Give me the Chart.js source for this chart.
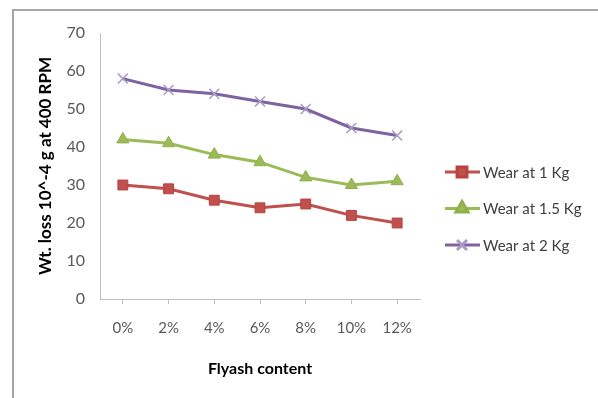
<!DOCTYPE html>
<html>
<head>
<meta charset="utf-8">
<script src="https://cdn.jsdelivr.net/npm/chart.js@4.4.1/dist/chart.umd.min.js"></script>
<style>
  html, body { margin: 0; padding: 0; background: #fff; }
  #wrap { position: relative; width: 598px; height: 398px; }
</style>
</head>
<body>
<div id="wrap"><canvas id="chart"></canvas></div>
<script>
const flyash = ['0%', '2%', '4%', '6%', '8%', '10%', '12%']
const wear1 = [30, 29, 26, 24, 25, 22, 20]
const wear15 = [42, 41, 38, 36, 32, 30, 31]
const wear2 = [58, 55, 54, 52, 50, 45, 43]
const seriesNames = ['Wear at 1 Kg', 'Wear at 1.5 Kg', 'Wear at 2 Kg']

const font = 'Lato'

// frame around the whole picture + legend drawn on the right (line with marker in the middle)
const decorations = {
    id: 'decorations',
    beforeDraw(chart) {
        const ctx = chart.ctx
        ctx.save()
        ctx.strokeStyle = '#a6a6a6'
        ctx.lineWidth = 2
        ctx.strokeRect(13, 10, 700, 500)
        ctx.restore()
    },
    afterDraw(chart) {
        const ctx = chart.ctx
        ctx.save()
        chart.data.datasets.forEach((ds, i) => {
            const y = 172 + i * 36.5
            ctx.strokeStyle = ds.borderColor
            ctx.lineWidth = 3
            ctx.beginPath()
            ctx.moveTo(445, y)
            ctx.lineTo(480, y)
            ctx.stroke()
            ctx.fillStyle = ds.pointBackgroundColor
            ctx.strokeStyle = ds.pointBorderColor
            Chart.helpers.drawPoint(ctx, {
                pointStyle: ds.pointStyle,
                radius: ds.pointRadius,
                rotation: 0,
                borderWidth: ds.pointBorderWidth
            }, 462, y)
            ctx.fillStyle = '#404040'
            ctx.font = '15px ' + font
            ctx.textBaseline = 'middle'
            ctx.textAlign = 'left'
            ctx.fillText(ds.label, 483, y + 1)
        })
        ctx.restore()
    }
}

new Chart(document.getElementById('chart'), {
    type: 'line',
    data: {
        labels: flyash,
        datasets: [
            {
                label: seriesNames[0],
                data: wear1,
                borderColor: '#c0504d',
                borderWidth: 3,
                pointStyle: 'rect',
                pointRadius: 7,
                pointBorderWidth: 1,
                pointBackgroundColor: '#c0504d',
                pointBorderColor: '#b8433f',
                tension: 0
            },
            {
                label: seriesNames[1],
                data: wear15,
                borderColor: '#9bbb59',
                borderWidth: 3,
                pointStyle: 'triangle',
                pointRadius: 7,
                pointBorderWidth: 1,
                pointBackgroundColor: '#9bbb59',
                pointBorderColor: '#8fb04a',
                tension: 0
            },
            {
                label: seriesNames[2],
                data: wear2,
                borderColor: '#7e62a1',
                borderWidth: 3,
                pointStyle: 'crossRot',
                pointRadius: 7,
                pointBorderWidth: 1.5,
                pointBackgroundColor: '#a99bc4',
                pointBorderColor: '#a99bc4',
                tension: 0
            }
        ]
    },
    options: {
        responsive: true,
        maintainAspectRatio: false,
        animation: false,
        layout: { padding: { top: 33, right: 178, left: 0, bottom: 0 } },
        plugins: {
            legend: { display: false },
            tooltip: { enabled: false }
        },
        scales: {
            x: {
                offset: true,
                grid: { drawOnChartArea: false, offset: false, tickLength: 5, color: '#bfbfbf' },
                border: { color: '#bfbfbf', width: 1 },
                ticks: { color: '#595959', font: { family: font, size: 15 }, padding: 15, maxRotation: 0 },
                title: {
                    display: true,
                    text: 'Flyash content',
                    color: '#000',
                    font: { family: font, size: 16, weight: 'bold' },
                    padding: { top: 0, bottom: 20 }
                },
                afterFit(scale) { scale.height = 99 }
            },
            y: {
                min: 0,
                max: 70,
                ticks: { stepSize: 10, color: '#595959', font: { family: font, size: 16 }, padding: 15 },
                grid: { drawOnChartArea: false, drawTicks: false },
                border: { color: '#bfbfbf', width: 1 },
                title: {
                    display: true,
                    text: 'Wt. loss 10^-4 g at 400 RPM',
                    color: '#000',
                    font: { family: font, size: 17, weight: 'bold' },
                    padding: { top: 35, bottom: 0 }
                },
                afterFit(scale) { scale.width = 100 }
            }
        }
    },
    plugins: [decorations]
})
</script>
</body>
</html>
